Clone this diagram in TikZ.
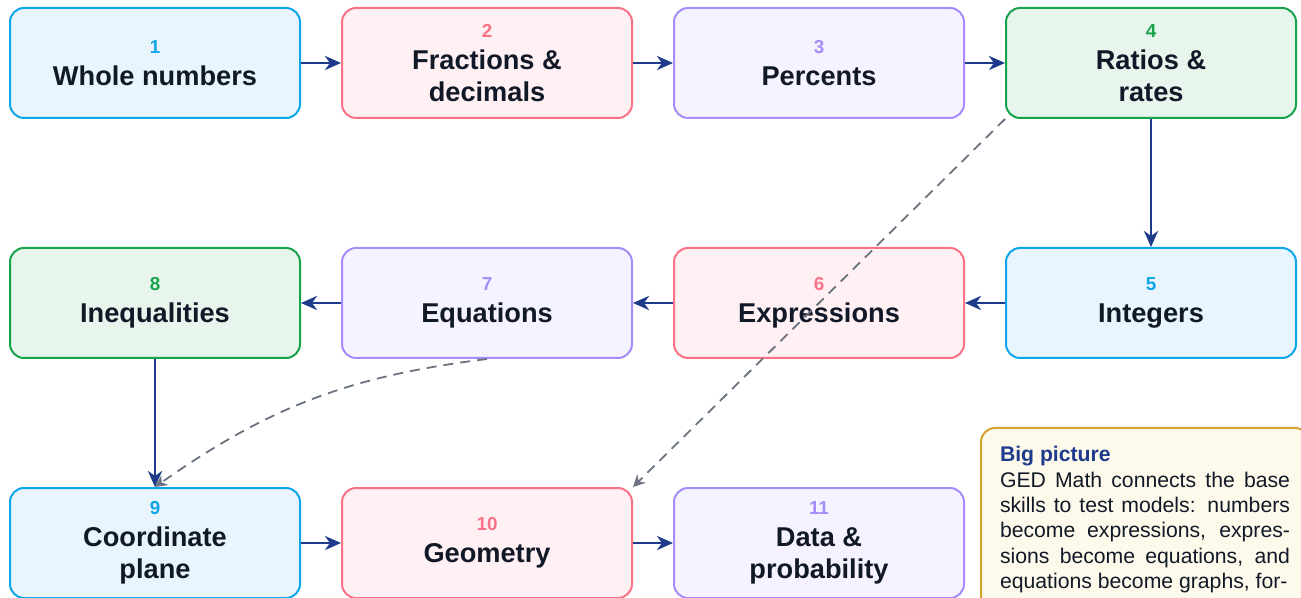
\documentclass[tikz,border=0pt]{standalone}
\usepackage{fontspec}
\setmainfont{Liberation Sans}
\usepackage{xcolor}
\usetikzlibrary{arrows.meta,positioning}

\definecolor{skyline}{HTML}{0EA5E9}
\definecolor{skyfill}{HTML}{E8F5FC}
\definecolor{roseline}{HTML}{FB7185}
\definecolor{rosefill}{HTML}{FFF1F3}
\definecolor{violetline}{HTML}{A78BFA}
\definecolor{violetfill}{HTML}{F5F3FF}
\definecolor{greenline}{HTML}{16A34A}
\definecolor{greenfill}{HTML}{E8F5EC}
\definecolor{navy}{HTML}{1E3A8A}
\definecolor{inkdark}{HTML}{111827}
\definecolor{dashgray}{HTML}{6B7280}
\definecolor{goldline}{HTML}{D4A22C}
\definecolor{goldfill}{HTML}{FEFAEB}

\newcommand{\stepno}[2]{{\fontsize{9.4pt}{16pt}\selectfont\color{#1}#2}}

\begin{document}
\begin{tikzpicture}[
        font=\bfseries\fontsize{13.6pt}{16pt}\selectfont,
        box/.style={draw, rounded corners=7pt, line width=1pt, align=center, text=inkdark, minimum width=145pt, minimum height=55pt},
        skybox/.style={box, draw=skyline, fill=skyfill},
        rosebox/.style={box, draw=roseline, fill=rosefill},
        violetbox/.style={box, draw=violetline, fill=violetfill},
        greenbox/.style={box, draw=greenline, fill=greenfill},
        note/.style={draw=goldline, fill=goldfill, rounded corners=7pt, line width=1pt, text=inkdark, align=justify, text width=145pt, inner xsep=9.5pt, inner ysep=9pt, font=\normalfont\fontsize{10.6pt}{12.6pt}\selectfont},
        arr/.style={-{Stealth[length=8pt, width=7pt, inset=2.5pt]}, line width=1.35pt, navy},
        link/.style={-{Stealth[length=6pt, width=6pt, inset=2pt]}, line width=0.9pt, dashgray, dash pattern=on 5pt off 3.5pt}
    ]
        \useasboundingbox (0,0) rectangle (650.5pt,-299pt);
        \node[skybox] (whole) at (77.5pt,-31.5pt) {\stepno{skyline}{1}\\Whole numbers};
        \node[rosebox, right=20pt of whole] (fractions) {\stepno{roseline}{2}\\Fractions \&\\decimals};
        \node[violetbox, right=20pt of fractions] (percents) {\stepno{violetline}{3}\\Percents};
        \node[greenbox, right=20pt of percents] (ratios) {\stepno{greenline}{4}\\Ratios \&\\rates};
        \node[skybox, below=64pt of ratios] (integers) {\stepno{skyline}{5}\\Integers};
        \node[rosebox, left=20pt of integers] (expressions) {\stepno{roseline}{6}\\Expressions};
        \node[violetbox, left=20pt of expressions] (equations) {\stepno{violetline}{7}\\Equations};
        \node[greenbox, left=20pt of equations] (inequalities) {\stepno{greenline}{8}\\Inequalities};
        \node[skybox, below=64pt of inequalities] (coordinate) {\stepno{skyline}{9}\\Coordinate\\plane};
        \node[rosebox, right=20pt of coordinate] (geometry) {\stepno{roseline}{10}\\Geometry};
        \node[violetbox, right=20pt of geometry] (data) {\stepno{violetline}{11}\\Data \&\\probability};
        \node[note, anchor=north west] (bigpic) at (490pt,-213.5pt) {\parfillskip=0pt {\color{navy}\bfseries Big picture}\\[0.5pt]GED Math connects the base\linebreak skills to test models: numbers\linebreak become expressions, expres-\linebreak sions become equations, and\linebreak equations become graphs, for-};
        \draw[arr] (whole) -- (fractions);
        \draw[arr] (fractions) -- (percents);
        \draw[arr] (percents) -- (ratios);
        \draw[arr] (ratios) -- (integers);
        \draw[arr] (integers) -- (expressions);
        \draw[arr] (expressions) -- (equations);
        \draw[arr] (equations) -- (inequalities);
        \draw[arr] (inequalities) -- (coordinate);
        \draw[arr] (coordinate) -- (geometry);
        \draw[arr] (geometry) -- (data);
        \draw[link] (ratios.south west) -- (geometry.north east);
        \draw[link] (equations.south) to[bend right=14] (coordinate.north);
    \end{tikzpicture}
\end{document}
